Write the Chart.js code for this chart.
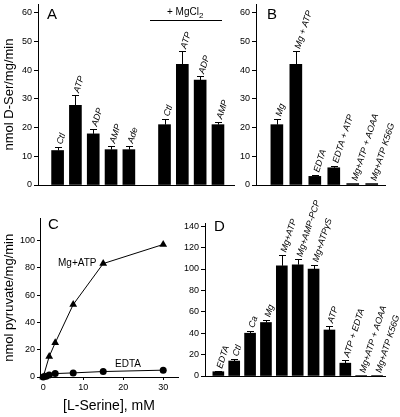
<!DOCTYPE html>
<html lang="en">
<head>
<meta charset="utf-8">
<script src="https://cdn.jsdelivr.net/npm/chart.js@4"></script>
<style>
  body { margin: 0; background: #fff; }
  #wrap { position: relative; width: 400px; height: 417px; overflow: hidden; font-family: "Liberation Sans", Arial, sans-serif; color: #000; }
  #wrap canvas { position: absolute; }
  .txt { position: absolute; line-height: 1; white-space: nowrap; }
</style>
</head>
<body>
<div id="wrap">
  <canvas id="chartA" width="240" height="200" style="left:0;top:0"></canvas>
  <canvas id="chartB" width="182" height="200" style="left:218px;top:0"></canvas>
  <canvas id="chartC" width="200" height="217" style="left:0;top:200px"></canvas>
  <canvas id="chartD" width="233" height="237" style="left:167px;top:180px"></canvas>

  <div class="txt" style="left:47px;top:6px;font-size:15px">A</div>
  <div class="txt" style="left:267px;top:6px;font-size:15px">B</div>
  <div class="txt" style="left:48px;top:216px;font-size:15px">C</div>
  <div class="txt" style="left:214px;top:218px;font-size:15px">D</div>
  <div class="txt" style="left:167px;top:7px;font-size:10px">+ MgCl<sub style="font-size:8px">2</sub></div>
  <div style="position:absolute;left:150px;top:20px;width:72px;border-top:1px solid #000"></div>
  <div class="txt" style="left:58px;top:258px;font-size:10px">Mg+ATP</div>
  <div class="txt" style="left:115px;top:359px;font-size:10px">EDTA</div>
</div>

<script>
// panel A: D-serine production, without and with MgCl2 ('' = gap between groups)
var labelsA = ['Ctl', 'ATP', 'ADP', 'AMP', 'Ade', '', 'Ctl', 'ATP', 'ADP', 'AMP'];
var valuesA = [12, 27.7, 17.8, 12.3, 12.3, null, 21, 42, 36.5, 21];
var errorsA = [1.2, 3.5, 1.7, 1.3, 1.3, null, 2, 4.5, 1.3, 1];

// panel B
var labelsB = ['Mg', 'Mg + ATP', 'EDTA', 'EDTA + ATP', 'Mg+ATP + AOAA', 'Mg+ATP K56G'];
var valuesB = [21, 42, 3, 6, 0.5, 0.5];
var errorsB = [2, 4.5, 0.5, 0.7, 0, 0];

// panel C: pyruvate vs L-serine
var mgAtpX = [0, 1.5, 3, 7.5, 15, 30];
var mgAtpY = [0, 15, 25, 53, 83, 97];
var edtaX = [0, 0.75, 1.5, 3, 7.5, 15, 30];
var edtaY = [0, 0.5, 1.5, 2.5, 3, 4, 5];

// panel D
var labelsD = ['EDTA', 'Ctl', 'Ca', 'Mg', 'Mg+ATP', 'Mg+AMP-PCP', 'Mg+ATPγS', 'ATP', 'ATP + EDTA', 'Mg+ATP + AOAA', 'Mg+ATP K56G'];
var valuesD = [4, 14, 40, 50, 103, 104, 100, 43, 12, 0.5, 0.5];
var errorsD = [0.5, 2, 2.5, 2.5, 10, 5, 4, 4, 3, 0, 0];

// tick labels
var ticksAB = [0, 10, 20, 30, 40, 50, 60];
var ticksCx = [0, 10, 20, 30];
var ticksCy = [0, 20, 40, 60, 80, 100];
var ticksD = [0, 20, 40, 60, 80, 100, 120, 140];

var FONT = '"Liberation Sans", Arial, sans-serif';

// error bars + slanted labels over each bar
function barLabels(labels, values, errors) {
    return {
        id: 'barLabels',
        afterDatasetsDraw: function (chart) {
            var ctx = chart.ctx, xs = chart.scales.x, ys = chart.scales.y;
            ctx.save();
            ctx.strokeStyle = '#000';
            ctx.fillStyle = '#000';
            ctx.lineWidth = 1;
            labels.forEach(function (lab, i) {
                var v = values[i];
                if (v === null) return;
                var e = errors[i] || 0;
                var px = Math.round(xs.getPixelForValue(i)) + 0.5;
                var y0 = ys.getPixelForValue(v);
                var y1 = ys.getPixelForValue(v + e);
                if (e > 0) {
                    var yt = Math.round(y1) + 0.5;
                    ctx.beginPath();
                    ctx.moveTo(px, y0);
                    ctx.lineTo(px, yt);
                    ctx.moveTo(px - 3.5, yt);
                    ctx.lineTo(px + 3.5, yt);
                    ctx.stroke();
                }
                ctx.save();
                ctx.translate(px + 1, y1 - 3);
                ctx.rotate(-72 * Math.PI / 180);
                ctx.font = 'italic 9px ' + FONT;
                ctx.textBaseline = 'middle';
                ctx.fillText(lab, 0, 0);
                ctx.restore();
            });
            ctx.restore();
        }
    };
}

function fixY(w) {
    return function (s) { s.width = w; s.paddingTop = 0; s.paddingBottom = 0; };
}
function fixX(h) {
    return function (s) { s.height = h; s.paddingLeft = 0; s.paddingRight = 0; };
}
function useTicks(list) {
    return function (s) { s.ticks = list.map(function (v) { return { value: v }; }); };
}

function BuildBars(id, labels, values, errors, opt) {
    var ctx = document.getElementById(id).getContext('2d');
    var yTitle = opt.title ? { display: true, text: opt.title, color: '#000', font: { family: FONT, size: 13 }, padding: { top: 2, bottom: 0 } } : { display: false };
    return new Chart(ctx, {
        type: 'bar',
        data: {
            datasets: [{
                data: labels.map(function (l, i) { return { x: i, y: values[i] }; }),
                backgroundColor: '#000',
                barThickness: opt.bar
            }]
        },
        options: {
            responsive: false,
            animation: false,
            layout: { padding: opt.padding },
            plugins: { legend: { display: false }, tooltip: { enabled: false } },
            scales: {
                x: {
                    type: 'linear', min: opt.xmin, max: opt.xmax, offset: false, bounds: 'data',
                    grid: { display: false, offset: false },
                    border: { color: '#000', width: 1 },
                    ticks: { display: false },
                    afterFit: fixX(opt.xh)
                },
                y: {
                    min: 0, max: opt.ymax,
                    ticks: { color: '#000', padding: 2, font: { family: FONT, size: 9 } },
                    grid: { drawOnChartArea: false, color: '#000', tickLength: 4 },
                    border: { color: '#000', width: 1 },
                    title: yTitle,
                    afterBuildTicks: useTicks(opt.ticks),
                    afterFit: fixY(opt.yw)
                }
            }
        },
        plugins: [barLabels(labels, values, errors)]
    });
}

BuildBars('chartA', labelsA, valuesA, errorsA, {
    title: 'nmol D-Ser/mg/min', bar: 12, xmin: -1.1, xmax: 9.9, ymax: 63, ticks: ticksAB,
    xh: 15, yw: 38, padding: { left: 0, top: 4, right: 6, bottom: 0 }
});
BuildBars('chartB', labelsB, valuesB, errorsB, {
    bar: 12, xmin: -1.1, xmax: 5.7, ymax: 63, ticks: ticksAB,
    xh: 15, yw: 38, padding: { left: 0, top: 4, right: 15, bottom: 0 }
});
BuildBars('chartD', labelsD, valuesD, errorsD, {
    bar: 11, xmin: -0.84, xmax: 10.5, ymax: 143, ticks: ticksD,
    xh: 41, yw: 38, padding: { left: 0, top: 43, right: 15, bottom: 0 }
});

// panel C
var ctxC = document.getElementById('chartC').getContext('2d');
new Chart(ctxC, {
    type: 'scatter',
    data: {
        datasets: [{
            data: mgAtpX.map(function (x, i) { return { x: x, y: mgAtpY[i] }; }),
            showLine: true, borderColor: '#000', borderWidth: 1,
            pointStyle: 'triangle', pointRadius: 4.5, backgroundColor: '#000', pointBorderWidth: 0,
            clip: false
        }, {
            data: edtaX.map(function (x, i) { return { x: x, y: edtaY[i] }; }),
            showLine: true, borderColor: '#000', borderWidth: 1,
            pointStyle: 'circle', pointRadius: 3.5, backgroundColor: '#000', pointBorderWidth: 0,
            clip: false
        }]
    },
    options: {
        responsive: false,
        animation: false,
        layout: { padding: { left: 0, top: 18.5, right: 22, bottom: 0 } },
        plugins: { legend: { display: false }, tooltip: { enabled: false } },
        scales: {
            x: {
                type: 'linear', min: -0.8, max: 33.7,
                ticks: { color: '#000', padding: 2, maxRotation: 0, autoSkip: false, font: { family: FONT, size: 9 } },
                grid: { drawOnChartArea: false, color: '#000', tickLength: 3 },
                border: { color: '#000', width: 1 },
                title: { display: true, text: '[L-Serine], mM', color: '#000', font: { family: FONT, size: 14 }, padding: { top: 0, bottom: 2 } },
                afterBuildTicks: useTicks(ticksCx),
                afterFit: fixX(40)
            },
            y: {
                min: 0, max: 116,
                ticks: { color: '#000', padding: 2, font: { family: FONT, size: 9 } },
                grid: { drawOnChartArea: false, color: '#000', tickLength: 3 },
                border: { color: '#000', width: 1 },
                title: { display: true, text: 'nmol pyruvate/mg/min', color: '#000', font: { family: FONT, size: 13 }, padding: { top: 2, bottom: 0 } },
                afterBuildTicks: useTicks(ticksCy),
                afterFit: fixY(40)
            }
        }
    }
});
</script>
</body>
</html>
